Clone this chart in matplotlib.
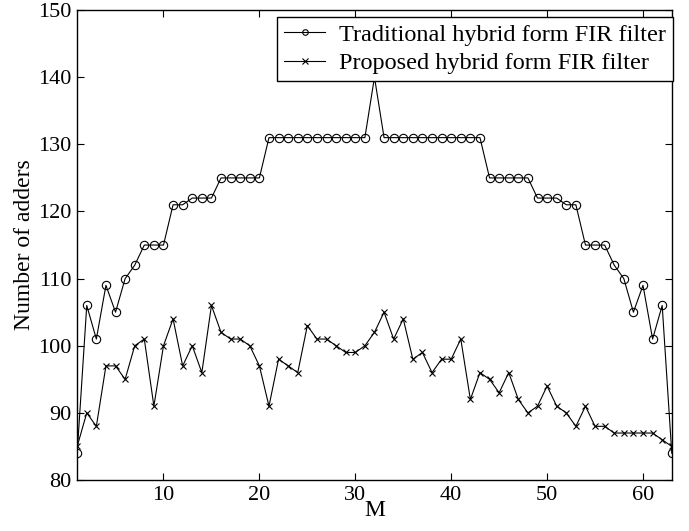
import matplotlib
matplotlib.use("Agg")
import matplotlib.pyplot as plt

# data
M = list(range(1, 64))
traditional = [84, 106, 101, 109, 105, 110, 112, 115, 115, 115,
               121, 121, 122, 122, 122, 125, 125, 125, 125, 125,
               131, 131, 131, 131, 131, 131, 131, 131, 131, 131,
               131, 140, 131, 131, 131, 131, 131, 131, 131, 131,
               131, 131, 131, 125, 125, 125, 125, 125, 122, 122,
               122, 121, 121, 115, 115, 115, 112, 110, 105, 109,
               101, 106, 84]
proposed = [85, 90, 88, 97, 97, 95, 100, 101, 91, 100,
            104, 97, 100, 96, 106, 102, 101, 101, 100, 97,
            91, 98, 97, 96, 103, 101, 101, 100, 99, 99,
            100, 102, 105, 101, 104, 98, 99, 96, 98, 98,
            101, 92, 96, 95, 93, 96, 92, 90, 91, 94,
            91, 90, 88, 91, 88, 88, 87, 87, 87, 87,
            87, 86, 85]
labels = ["Traditional hybrid form FIR filter", "Proposed hybrid form FIR filter"]

plt.rcParams["font.family"] = ["Liberation Serif", "DejaVu Serif"]
plt.rcParams["font.size"] = 16

fig = plt.figure(figsize=(6.89, 5.31), dpi=100)
ax = fig.add_axes([0.112, 0.096, 0.863, 0.885])

ax.plot(M, traditional, color="black", lw=0.8, marker="o", markersize=6,
        markerfacecolor="none", markeredgewidth=0.8, label=labels[0])
ax.plot(M, proposed, color="black", lw=0.8, marker="x", markersize=4.5,
        markeredgewidth=0.8, label=labels[1])

ax.set_xlim(1, 63)
ax.set_ylim(80, 150)
ax.set_xticks([10, 20, 30, 40, 50, 60])
ax.set_yticks(range(80, 151, 10))
ax.tick_params(direction="in", top=True, right=True, length=5, width=0.8,
               pad=4, labelsize=16)
for s in ax.spines.values():
    s.set_linewidth(1.0)

ax.set_xlabel("M", fontsize=17, labelpad=-3)
ax.set_ylabel("Number of adders", fontsize=17, labelpad=2)

leg = ax.legend(loc="upper right", bbox_to_anchor=(1.002, 0.986), frameon=True,
                fancybox=False, edgecolor="black", framealpha=1, fontsize=17.5,
                handlelength=1.7, handletextpad=0.55, borderpad=0.3,
                labelspacing=0.25, borderaxespad=0)
leg.get_frame().set_linewidth(1.0)
for h in leg.legend_handles:
    h.set_markersize(4)

fig.savefig("out.png", dpi=100)
